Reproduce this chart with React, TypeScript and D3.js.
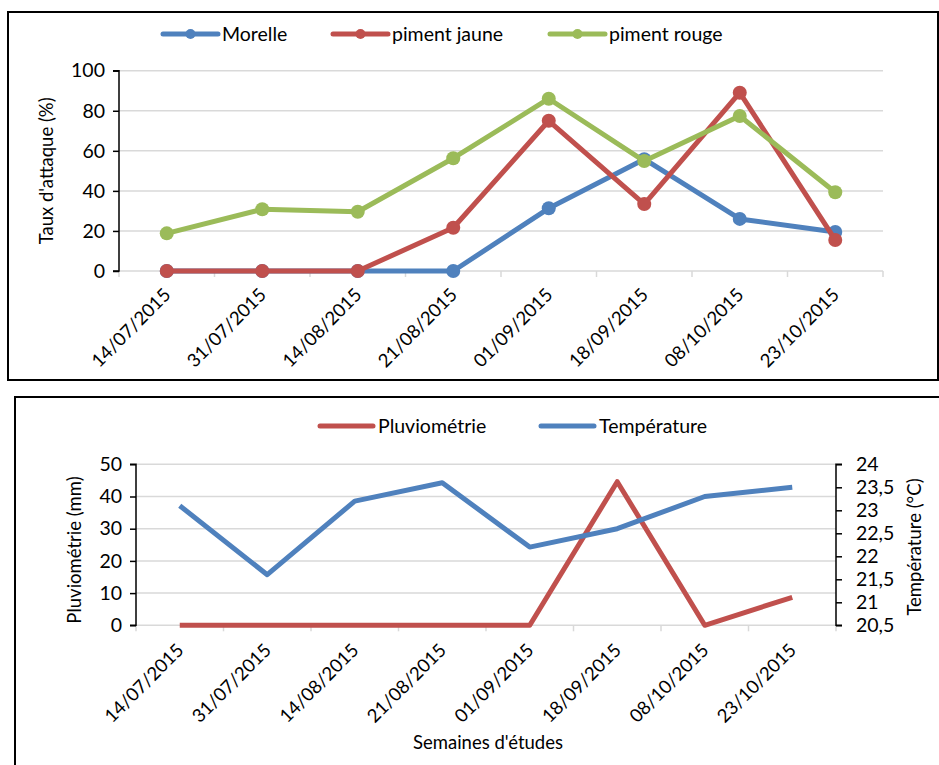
import { useRef, useEffect } from 'react';
import * as d3 from 'd3';

const dates = [
  '14/07/2015', '31/07/2015', '14/08/2015', '21/08/2015',
  '01/09/2015', '18/09/2015', '08/10/2015', '23/10/2015',
];

const morelle = [0, 0, 0, 0, 31.3, 55.8, 26, 19.5];
const pimentJaune = [0, 0, 0, 21.6, 75, 33.4, 89, 15.5];
const pimentRouge = [18.8, 30.8, 29.6, 56.3, 86, 54.9, 77.4, 39.3];

const pluvio = [0, 0, 0, 0, 0, 44.6, 0, 8.7];
const temperature = [23.1, 21.6, 23.2, 23.6, 22.2, 22.6, 23.3, 23.5];

const attackTicks = [0, 20, 40, 60, 80, 100];
const pluvioTicks = [0, 10, 20, 30, 40, 50];
const tempTicks = [20.5, 21, 21.5, 22, 22.5, 23, 23.5, 24];

const BLUE = '#4F81BD';
const RED = '#C0504D';
const GREEN = '#9BBB59';
const GRID = '#D9D9D9';
const FONT = 'Lato, sans-serif';
const FS = 19.5;
const LABEL_FS = 18.5;
const TITLE_FS = 18.5;

export default function App() {
  const svgRef = useRef<SVGSVGElement>(null);

  useEffect(() => {
    if (!svgRef.current) return;
    const svg = d3.select(svgRef.current);
    svg.selectAll('*').remove();

    // ---------- top chart: attack rates ----------
    svg.append('rect')
      .attr('x', 8).attr('y', 12).attr('width', 930).attr('height', 368)
      .attr('fill', 'white').attr('stroke', '#000').attr('stroke-width', 2);

    const x1 = d3.scaleBand().domain(dates).range([119, 883]);
    const y1 = d3.scaleLinear().domain([0, 100]).range([271, 70.7]);

    const top = svg.append('g');

    // gridlines
    top.selectAll('.grid')
      .data(attackTicks.filter((t) => t > 0))
      .join('line')
      .attr('x1', 119).attr('x2', 883)
      .attr('y1', (d) => y1(d)).attr('y2', (d) => y1(d))
      .attr('stroke', GRID).attr('stroke-width', 1.5);

    // x axis (gray)
    const xAxisTop = top.append('g').attr('transform', `translate(0,${y1(0)})`);
    xAxisTop.append('line')
      .attr('x1', 119).attr('x2', 883).attr('stroke', GRID).attr('stroke-width', 1.5);
    const bounds1 = dates.map((d) => x1(d) as number).concat([883]);
    xAxisTop.selectAll('.tk').data(bounds1).join('line')
      .attr('x1', (d) => d).attr('x2', (d) => d).attr('y1', 0).attr('y2', 6)
      .attr('stroke', GRID).attr('stroke-width', 1.5);
    xAxisTop.selectAll('.lbl').data(dates).join('text')
      .attr('transform', (d) => `translate(${(x1(d) as number) + x1.bandwidth() / 2 + 5},${25}) rotate(-45)`)
      .attr('text-anchor', 'end')
      .attr('font-family', FONT).attr('font-size', LABEL_FS).attr('fill', '#000')
      .text((d) => d);

    // y axis
    const yAxisTop = d3.axisLeft(y1).tickValues(attackTicks).tickSize(6).tickPadding(8);
    const ya = top.append('g').attr('transform', 'translate(119,0)').call(yAxisTop);
    ya.select('.domain').attr('stroke', '#000').attr('stroke-width', 1.5).attr('d', `M-6,${y1(100)}H0V${y1(0)}H-6`);
    ya.selectAll('.tick line').attr('stroke', '#000').attr('stroke-width', 1.5);
    ya.selectAll('.tick text').attr('font-family', FONT).attr('font-size', FS).attr('fill', '#000');

    top.append('text')
      .attr('transform', `translate(53,${(y1(0) + y1(100)) / 2}) rotate(-90)`)
      .attr('text-anchor', 'middle')
      .attr('font-family', FONT).attr('font-size', TITLE_FS).attr('fill', '#000')
      .text("Taux d'attaque (%)");

    const cx1 = (i: number) => (x1(dates[i]) as number) + x1.bandwidth() / 2;
    const line1 = d3.line<number>().x((_, i) => cx1(i)).y((d) => y1(d));

    const topSeries = [
      { name: 'Morelle', values: morelle, color: BLUE },
      { name: 'piment jaune', values: pimentJaune, color: RED },
      { name: 'piment rouge', values: pimentRouge, color: GREEN },
    ];

    topSeries.forEach((s) => {
      top.append('path').datum(s.values).attr('d', line1)
        .attr('fill', 'none').attr('stroke', s.color).attr('stroke-width', 5)
        .attr('stroke-linejoin', 'round');
      top.selectAll(null).data(s.values).join('circle')
        .attr('cx', (_, i) => cx1(i)).attr('cy', (d) => y1(d)).attr('r', 7)
        .attr('fill', s.color);
    });

    // legend
    const legTop = [
      { ...topSeries[0], x: 163 },
      { ...topSeries[1], x: 333 },
      { ...topSeries[2], x: 550 },
    ];
    legTop.forEach((l) => {
      const g = top.append('g');
      g.append('line').attr('x1', l.x).attr('x2', l.x + 55).attr('y1', 34).attr('y2', 34)
        .attr('stroke', l.color).attr('stroke-width', 5).attr('stroke-linecap', 'round');
      g.append('circle').attr('cx', l.x + 27.5).attr('cy', 34).attr('r', 5).attr('fill', l.color);
      g.append('text').attr('x', l.x + 59).attr('y', 34).attr('dy', '0.35em')
        .attr('font-family', FONT).attr('font-size', FS).attr('fill', '#000').text(l.name);
    });

    // ---------- bottom chart: rain and temperature ----------
    svg.append('rect')
      .attr('x', 15).attr('y', 397).attr('width', 940).attr('height', 380)
      .attr('fill', 'white').attr('stroke', '#000').attr('stroke-width', 2);

    const x2 = d3.scaleBand().domain(dates).range([136, 836]);
    const y2 = d3.scaleLinear().domain([0, 50]).range([625.3, 464.3]);
    const y3 = d3.scaleLinear().domain([20.5, 24]).range([625.3, 464.3]);

    const bot = svg.append('g');

    bot.selectAll('.grid')
      .data(pluvioTicks.filter((t) => t > 0))
      .join('line')
      .attr('x1', 136).attr('x2', 836)
      .attr('y1', (d) => y2(d)).attr('y2', (d) => y2(d))
      .attr('stroke', GRID).attr('stroke-width', 1.5);

    const xAxisBot = bot.append('g').attr('transform', `translate(0,${y2(0)})`);
    xAxisBot.append('line')
      .attr('x1', 136).attr('x2', 836).attr('stroke', GRID).attr('stroke-width', 1.5);
    const bounds2 = dates.map((d) => x2(d) as number).concat([836]);
    xAxisBot.selectAll('.tk').data(bounds2).join('line')
      .attr('x1', (d) => d).attr('x2', (d) => d).attr('y1', 0).attr('y2', 6)
      .attr('stroke', GRID).attr('stroke-width', 1.5);
    xAxisBot.selectAll('.lbl').data(dates).join('text')
      .attr('transform', (d) => `translate(${(x2(d) as number) + x2.bandwidth() / 2 + 5},${26}) rotate(-45)`)
      .attr('text-anchor', 'end')
      .attr('font-family', FONT).attr('font-size', LABEL_FS).attr('fill', '#000')
      .text((d) => d);

    const yl = bot.append('g').attr('transform', 'translate(136,0)')
      .call(d3.axisLeft(y2).tickValues(pluvioTicks).tickSize(6).tickPadding(8));
    yl.select('.domain').attr('stroke', '#000').attr('stroke-width', 1.5).attr('d', `M-6,${y2(50)}H0V${y2(0)}H-6`);
    yl.selectAll('.tick line').attr('stroke', '#000').attr('stroke-width', 1.5);
    yl.selectAll('.tick text').attr('font-family', FONT).attr('font-size', FS).attr('fill', '#000');

    const yr = bot.append('g').attr('transform', 'translate(836,0)')
      .call(d3.axisRight(y3).tickValues(tempTicks).tickSize(6).tickPadding(14)
        .tickFormat((d) => String(d).replace('.', ',')));
    yr.select('.domain').attr('stroke', '#000').attr('stroke-width', 1.5).attr('d', `M6,${y3(24)}H0V${y3(20.5)}H6`);
    yr.selectAll('.tick line').attr('stroke', '#000').attr('stroke-width', 1.5);
    yr.selectAll('.tick text').attr('font-family', FONT).attr('font-size', FS).attr('fill', '#000');

    bot.append('text')
      .attr('transform', `translate(81,550) rotate(-90)`)
      .attr('text-anchor', 'middle')
      .attr('font-family', FONT).attr('font-size', TITLE_FS).attr('fill', '#000')
      .text('Pluviométrie (mm)');

    bot.append('text')
      .attr('transform', `translate(921,547) rotate(-90)`)
      .attr('text-anchor', 'middle')
      .attr('font-family', FONT).attr('font-size', TITLE_FS).attr('fill', '#000')
      .text('Température (°C)');

    bot.append('text')
      .attr('x', 488).attr('y', 749)
      .attr('text-anchor', 'middle')
      .attr('font-family', FONT).attr('font-size', TITLE_FS).attr('fill', '#000')
      .text("Semaines d'études");

    const cx2 = (i: number) => (x2(dates[i]) as number) + x2.bandwidth() / 2;
    bot.append('path').datum(pluvio)
      .attr('d', d3.line<number>().x((_, i) => cx2(i)).y((d) => y2(d)))
      .attr('fill', 'none').attr('stroke', RED).attr('stroke-width', 5).attr('stroke-linejoin', 'round');
    bot.append('path').datum(temperature)
      .attr('d', d3.line<number>().x((_, i) => cx2(i)).y((d) => y3(d)))
      .attr('fill', 'none').attr('stroke', BLUE).attr('stroke-width', 5).attr('stroke-linejoin', 'round');

    const legBot = [
      { name: 'Pluviométrie', color: RED, x: 320 },
      { name: 'Température', color: BLUE, x: 541 },
    ];
    legBot.forEach((l) => {
      const g = bot.append('g');
      g.append('line').attr('x1', l.x).attr('x2', l.x + 53).attr('y1', 426).attr('y2', 426)
        .attr('stroke', l.color).attr('stroke-width', 5).attr('stroke-linecap', 'round');
      g.append('text').attr('x', l.x + 58).attr('y', 426).attr('dy', '0.35em')
        .attr('font-family', FONT).attr('font-size', FS).attr('fill', '#000').text(l.name);
    });
  }, []);

  return (
    <div>
      <style>{'body{margin:0;background:#fff}'}</style>
      <svg ref={svgRef} width={939} height={765} style={{ display: 'block' }} />
    </div>
  );
}
